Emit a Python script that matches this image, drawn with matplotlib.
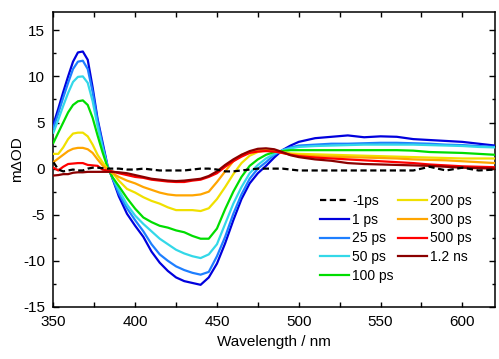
import matplotlib
matplotlib.use("Agg")
import matplotlib.pyplot as plt
from matplotlib.ticker import MultipleLocator

plt.rcParams['font.family'] = ['Liberation Sans', 'DejaVu Sans']
plt.rcParams['axes.unicode_minus'] = False

wavelength = [350, 353, 356, 359, 362, 365, 368, 371, 374, 377, 380, 383, 386, 390, 395,
              400, 405, 410, 415, 420, 425, 430, 435, 440, 445, 450, 455, 460, 465, 470,
              475, 480, 485, 490, 495, 500, 510, 520, 530, 540, 550, 560, 570, 580, 590,
              600, 610, 620]

s_m1ps = [0.7, -0.1, -0.3, -0.2, -0.1, -0.2, -0.2, 0.0, 0.1, 0.1, 0.05, 0.0, 0.0, 0.0, -0.1,
          -0.1, 0.0, -0.1, -0.2, -0.2, -0.2, -0.2, -0.1, 0.0, 0.0, -0.1, -0.3, -0.3, -0.2, -0.1,
          0.0, 0.0, 0.0, 0.0, -0.1, -0.2, -0.2, -0.2, -0.2, -0.2, -0.2, -0.2, -0.2, 0.2, -0.2,
          0.1, -0.2, -0.1]

s_1ps = [4.8, 6.5, 8.3, 10.0, 11.6, 12.6, 12.7, 11.8, 8.8, 5.4, 2.9, 0.4, -1.0, -3.0, -4.9,
         -6.2, -7.4, -9.0, -10.2, -11.1, -11.8, -12.2, -12.4, -12.6, -11.8, -10.3, -8.1, -5.6, -3.3, -1.6,
         -0.5, 0.3, 1.2, 2.0, 2.5, 2.9, 3.3, 3.45, 3.6, 3.4, 3.5, 3.45, 3.2, 3.1, 3.0,
         2.9, 2.7, 2.5]

s_25ps = [4.4, 6.0, 7.7, 9.3, 10.8, 11.6, 11.7, 10.8, 8.3, 5.2, 2.6, 0.3, -1.0, -2.7, -4.3,
          -5.6, -6.8, -8.2, -9.3, -10.0, -10.6, -11.0, -11.3, -11.5, -11.2, -9.5, -7.4, -4.9, -2.8, -1.1,
          0.0, 0.7, 1.5, 2.0, 2.3, 2.5, 2.6, 2.7, 2.7, 2.75, 2.8, 2.8, 2.75, 2.7, 2.6,
          2.55, 2.45, 2.35]

s_50ps = [3.9, 5.3, 6.8, 8.2, 9.4, 9.95, 10.0, 9.3, 7.3, 4.6, 2.3, 0.3, -0.9, -2.3, -3.9,
          -5.1, -6.0, -6.8, -7.6, -8.2, -8.8, -9.2, -9.5, -9.7, -9.3, -8.2, -6.0, -3.8, -2.0, -0.5,
          0.4, 1.1, 1.6, 2.0, 2.2, 2.35, 2.45, 2.5, 2.55, 2.6, 2.6, 2.6, 2.6, 2.55, 2.5,
          2.45, 2.35, 2.3]

s_100ps = [2.8, 3.9, 5.0, 6.1, 6.9, 7.3, 7.4, 6.9, 5.5, 3.6, 1.8, 0.2, -0.9, -1.9, -3.2,
           -4.35, -5.3, -5.8, -6.2, -6.4, -6.7, -6.9, -7.3, -7.6, -7.6, -6.5, -4.4, -2.5, -0.9, 0.3,
           1.0, 1.5, 1.8, 1.9, 2.0, 2.0, 2.0, 2.0, 2.0, 2.0, 2.0, 2.0, 1.95, 1.8, 1.75,
           1.7, 1.6, 1.5]

s_200ps = [1.6, 1.6, 2.3, 3.2, 3.8, 3.9, 3.9, 3.5, 2.6, 1.5, 0.7, 0.0, -0.4, -1.3, -2.2,
           -2.6, -3.1, -3.5, -3.8, -4.2, -4.5, -4.5, -4.5, -4.6, -4.3, -3.3, -2.0, -0.6, 0.6, 1.4,
           1.8, 2.0, 1.95, 1.8, 1.65, 1.6, 1.55, 1.5, 1.45, 1.4, 1.35, 1.3, 1.25, 1.2, 1.15,
           1.1, 1.1, 1.1]

s_300ps = [0.7, 1.1, 1.5, 1.9, 2.15, 2.25, 2.25, 2.1, 1.7, 1.0, 0.35, -0.1, -0.5, -0.9, -1.3,
           -1.6, -2.0, -2.3, -2.6, -2.8, -2.9, -2.9, -2.9, -2.8, -2.5, -1.45, -0.3, 0.8, 1.5, 1.8,
           2.0, 2.0, 1.9, 1.7, 1.55, 1.45, 1.35, 1.3, 1.25, 1.2, 1.15, 1.1, 1.0, 0.95, 0.9,
           0.8, 0.7, 0.6]

s_500ps = [0.1, -0.2, 0.2, 0.5, 0.55, 0.6, 0.6, 0.4, 0.35, 0.3, -0.1, -0.2, -0.3, -0.5, -0.7,
           -0.9, -1.0, -1.2, -1.3, -1.4, -1.45, -1.45, -1.3, -1.2, -0.9, -0.5, 0.2, 0.8, 1.3, 1.7,
           1.85, 1.9, 1.85, 1.7, 1.5, 1.35, 1.2, 1.1, 1.0, 0.9, 0.8, 0.7, 0.6, 0.45, 0.35,
           0.25, 0.2, 0.15]

s_1p2ns = [-0.75, -0.7, -0.6, -0.6, -0.45, -0.4, -0.4, -0.35, -0.35, -0.35, -0.35, -0.35, -0.35, -0.4, -0.5,
           -0.7, -0.9, -1.1, -1.2, -1.3, -1.35, -1.3, -1.2, -1.1, -0.8, -0.3, 0.4, 1.0, 1.5, 1.9,
           2.15, 2.2, 2.1, 1.8, 1.45, 1.25, 1.0, 0.85, 0.6, 0.5, 0.45, 0.4, 0.35, 0.3, 0.2,
           0.1, 0.05, 0.0]

labels = ['-1ps', '1 ps', '25 ps', '50 ps', '100 ps', '200 ps', '300 ps', '500 ps', '1.2 ns']
series = [s_m1ps, s_1ps, s_25ps, s_50ps, s_100ps, s_200ps, s_300ps, s_500ps, s_1p2ns]
colors = ['black', '#0000dd', '#1e7fff', '#33d8e8', '#00dd00', '#f0e000', '#ffa500', '#ff0000', '#8b0000']

fig = plt.figure(figsize=(4.99, 3.59), dpi=100)
ax = fig.add_axes([0.107, 0.145, 0.885, 0.822])

handles = [None] * len(series)
for i in range(1, len(series)):
    h, = ax.plot(wavelength, series[i], color=colors[i], lw=1.6, label=labels[i], zorder=2 + i)
    handles[i] = h
h, = ax.plot(wavelength, series[0], color=colors[0], lw=1.6, ls=(0, (2.8, 1.6)),
             label=labels[0], zorder=20)
handles[0] = h

ax.set_xlim(350, 620)
ax.set_ylim(-15, 17)
ax.xaxis.set_major_locator(MultipleLocator(50))
ax.xaxis.set_minor_locator(MultipleLocator(25))
ax.yaxis.set_major_locator(MultipleLocator(5))
ax.yaxis.set_minor_locator(MultipleLocator(2.5))
ax.tick_params(which='both', direction='in', top=True, right=True, width=1.0, labelsize=11)
ax.tick_params(axis='y', which='major', length=4, pad=6)
ax.tick_params(axis='y', which='minor', length=2.5)
ax.tick_params(axis='x', which='major', length=3.5, pad=6)
ax.tick_params(axis='x', which='minor', length=3.5)
for sp in ax.spines.values():
    sp.set_linewidth(1.1)

ax.set_xlabel('Wavelength / nm', fontsize=11, labelpad=4)
ax.set_ylabel('mΔOD', fontsize=11, labelpad=-1)

leg = ax.legend(handles=handles, labels=labels, ncol=2, frameon=False, fontsize=10,
                loc='upper left', bbox_to_anchor=(0.582, 0.415), handlelength=2.1,
                handletextpad=0.2, labelspacing=0.33, columnspacing=0.3, borderpad=0.2)

fig.savefig('out.png', dpi=100)
